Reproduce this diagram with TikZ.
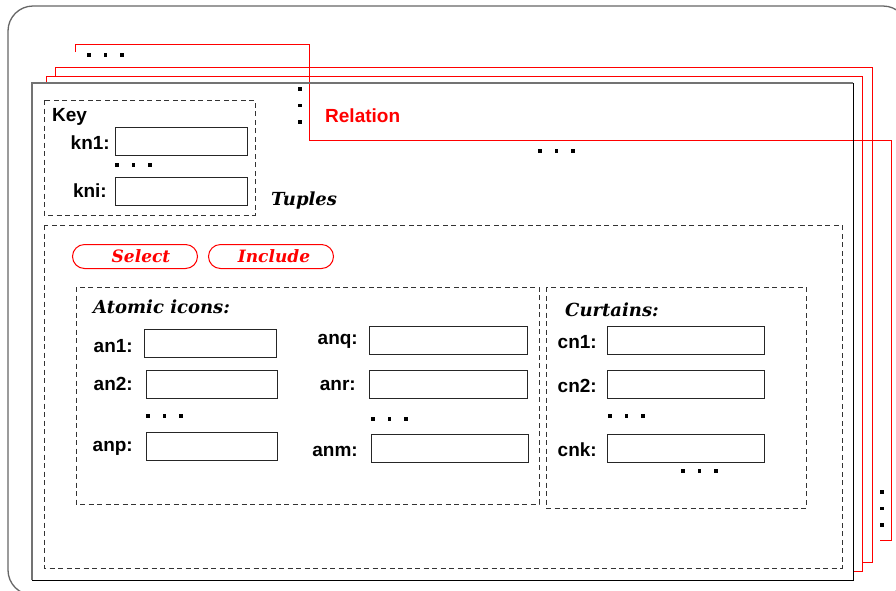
\documentclass[tikz,border=0pt]{standalone}
\usepackage{fontspec}
\newfontfamily\helv{Liberation Sans}
\newfontfamily\headfont{DejaVu Serif}
\usetikzlibrary{positioning}

% three square dots, in a row or in a column
\newcommand{\dotrow}[2]{\foreach \i in {0,1,2}
  \fill ({#1+16.5*\i-1.8},{#2-1.8}) rectangle +(3.6,3.6);}
\newcommand{\dotcol}[2]{\foreach \i in {0,1,2}
  \fill ({#1-1.8},{#2+16.5*\i-1.8}) rectangle +(3.6,3.6);}

\tikzset{
  field/.style={draw=black!85,line width=0.9pt,inner sep=0pt,outer sep=0pt,
    minimum height=28pt,minimum width=#1,anchor=north west},
  field/.default=132pt,
  lbl/.style={font=\helv\bfseries\fontsize{19}{22}\selectfont,inner sep=0pt},
  head/.style={font=\headfont\bfseries\itshape\fontsize{18}{21}\selectfont,inner sep=0pt},
  frame/.style={draw=black!80,dash pattern=on 5pt off 3.5pt,line width=0.9pt},
  sheet/.style={draw=red,line width=1pt},
  btn/.style={draw=red,text=red,line width=1pt,rounded corners=12pt,
    minimum width=125pt,minimum height=24pt,inner sep=0pt,anchor=north west,
    font=\headfont\bfseries\itshape\fontsize{17}{20}\selectfont}
}

\begin{document}
\begin{tikzpicture}[x=1pt,y=-1pt]
  \clip (0,0) rectangle (896,590);
  \draw[black!60,line width=1.3pt,rounded corners=25pt] (8,6) rectangle (908,595);

  % stack of relation sheets
  \draw[sheet] (75,52) -- (75,44) -- (309,44) -- (309,140) -- (891,140)
    -- (891,540) -- (880,540);
  \draw[sheet] (55,76) -- (55,67) -- (872,67) -- (872,562) -- (862,562);
  \draw[sheet] (46,83) -- (46,76) -- (862,76) -- (862,571) -- (853,571);
  \dotrow{89}{55}
  \dotcol{300}{89}
  \dotrow{540}{151}
  \dotcol{882}{492}
  \node[lbl,text=red,anchor=west] (rel) at (325,116) {Relation};

  % front sheet
  \draw[black!55,line width=1.2pt] (32,580) -- (32,83) -- (853,83);
  \draw[black,line width=1pt] (853,83) -- (853,580) -- (32,580);

  % key
  \draw[frame] (44,100) rectangle (255,215);
  \node[lbl,anchor=west] (key) at (52,117) {Key};
  \node[field] (kn1) at (115,127) {};
  \node[lbl,left=5pt of kn1,yshift=-2pt] (lkn1) {kn1:};
  \dotrow{117}{165}
  \node[field] (kni) at (115,177) {};
  \node[lbl,left=8pt of kni] (lkni) {kni:};

  % tuples
  \node[head,anchor=west] (tup) at (271,201) {Tuples};
  \draw[frame] (44,225) rectangle (842,568);
  \node[btn] (sel) at (72,244) {\hspace*{12pt}Select};
  \node[btn] (inc) at (208,244) {\hspace*{6pt}Include};

  % atomic icons
  \draw[frame] (76,287) rectangle (539,504);
  \node[head,anchor=west] (atom) at (93,307) {Atomic icons:};
  \node[field] (an1) at (144,329) {};
  \node[lbl,left=11pt of an1,yshift=-3pt] (lan1) {an1:};
  \node[field=131pt] (an2) at (146,370) {};
  \node[lbl,left=13pt of an2] (lan2) {an2:};
  \dotrow{148}{416}
  \node[field=131pt] (anp) at (146,432) {};
  \node[lbl,left=13pt of anp,yshift=-2pt] (lanp) {anp:};
  \node[field=158pt] (anq) at (369,326) {};
  \node[lbl,left=11pt of anq,yshift=-1pt] (lanq) {anq:};
  \node[field=158pt] (anr) at (369,370) {};
  \node[lbl,left=13pt of anr,yshift=-1pt] (lanr) {anr:};
  \dotrow{373}{419}
  \node[field=157pt] (anm) at (371,434) {};
  \node[lbl,left=13pt of anm,yshift=-3pt] (lanm) {anm:};

  % curtains
  \draw[frame] (546,287) rectangle (806,508);
  \node[head,anchor=west] (curt) at (565,310) {Curtains:};
  \node[field=157pt] (cn1) at (607,326) {};
  \node[lbl,left=10pt of cn1,yshift=-2pt] (lcn1) {cn1:};
  \node[field=157pt] (cn2) at (607,370) {};
  \node[lbl,left=10pt of cn2,yshift=-2pt] (lcn2) {cn2:};
  \dotrow{610}{416}
  \node[field=157pt] (cnk) at (607,434) {};
  \node[lbl,left=10pt of cnk,yshift=-2pt] (lcnk) {cnk:};
  \dotrow{683}{471}
\end{tikzpicture}
\end{document}
